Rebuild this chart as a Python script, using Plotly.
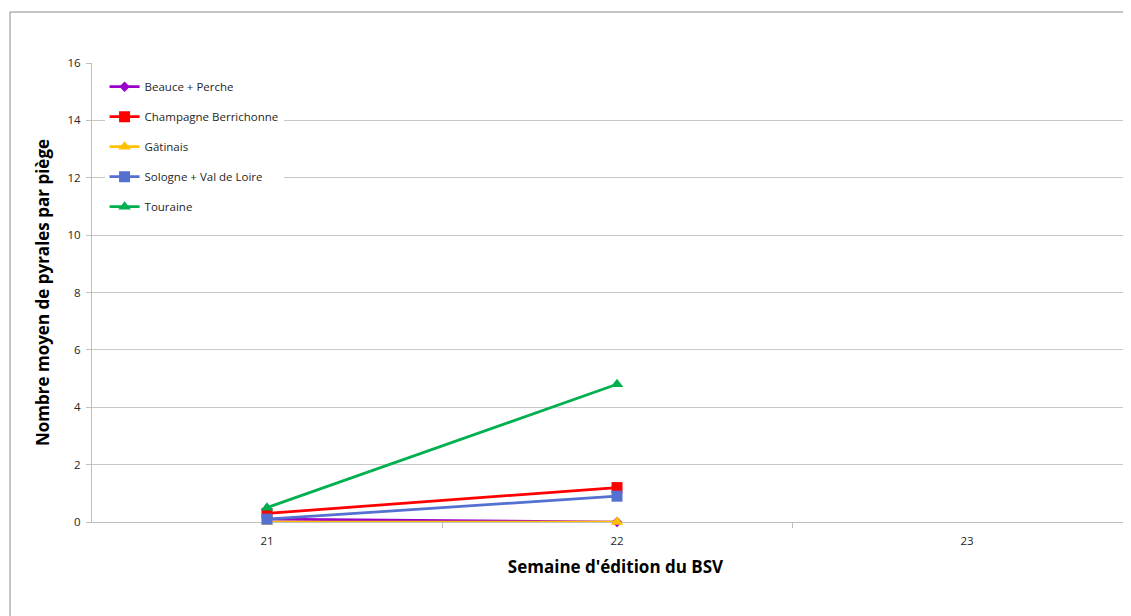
import plotly.graph_objects as go

weeks = ["21", "22", "23"]
x_pos = [0, 1, 2]
series_names = ["Beauce + Perche", "Champagne Berrichonne", "Gâtinais",
                "Sologne + Val de Loire", "Touraine"]
beauce = [0.1, 0.0]
champagne = [0.3, 1.2]
gatinais = [0.0, 0.0]
sologne = [0.1, 0.9]
touraine = [0.5, 4.8]

values = [beauce, champagne, gatinais, sologne, touraine]
colors = ["#9A00CC", "#FF0000", "#FFC000", "#5470D0", "#00B050"]
symbols = ["diamond", "square", "triangle-up", "square", "triangle-up"]
msizes = [8, 11, 11, 11, 11]

fig = go.Figure()
for i, (name, vals) in enumerate(zip(series_names, values)):
    fig.add_trace(go.Scatter(
        x=x_pos[:len(vals)], y=vals, name=name, mode="lines+markers",
        line=dict(color=colors[i], width=2.75),
        marker=dict(symbol=symbols[i], size=msizes[i], color=colors[i]),
        legendgroup=f"g{i}", cliponaxis=False,
    ))

OFF = 8  # page offset of the figure in the browser
W, H = 1131, 616
L, T = 92 - OFF, 63 - OFF
B = H - (522 - OFF)
right_edge_page = OFF + W
fig.update_layout(
    width=W, height=H,
    margin=dict(l=L, r=0, t=T, b=B),
    plot_bgcolor="white", paper_bgcolor="white",
    font=dict(family="Open Sans, Liberation Sans, sans-serif", size=11, color="#262626"),
    showlegend=True,
    legend=dict(x=0.012, y=0.98, xanchor="left", yanchor="top",
                bgcolor="rgba(255,255,255,1)", font=dict(size=11.5, color="#262626"),
                traceorder="grouped", tracegroupgap=11, itemwidth=30),
    xaxis=dict(
        range=[-0.5, 2.5 - (1142 - right_edge_page) / 350], tickvals=x_pos, ticktext=weeks,
        showgrid=False, zeroline=False, showline=True, linecolor="#BFBFBF",
        layer="below traces",
        ticks="", tickfont=dict(size=11.5, color="#262626"), ticklabelstandoff=8,
        minor=dict(tickvals=[0.5, 1.5], ticks="outside", ticklen=5, tickcolor="#BFBFBF"),
        title=dict(text="Semaine d'édition du BSV",
                   font=dict(size=17, color="#000000", family="Open Sans, Liberation Sans, sans-serif", weight="bold"),
                   standoff=14),
    ),
    yaxis=dict(
        range=[0, 16], dtick=2, showgrid=True, gridcolor="#C8C8C8", gridwidth=1,
        zeroline=False, showline=True, linecolor="#BFBFBF",
        layer="below traces",
        ticks="outside", ticklen=5, tickcolor="#BFBFBF",
        tickfont=dict(size=11.5, color="#262626"), ticklabelstandoff=3,
        title=dict(text="Nombre moyen de pyrales par piège",
                   font=dict(size=17, color="#000000", family="Open Sans, Liberation Sans, sans-serif", weight="bold"),
                   standoff=13),
    ),
)

pw = W - L
ph = H - T - B
fig.add_shape(type="rect", xref="paper", yref="paper",
              x0=(10 - OFF - L) / pw, x1=1.05, y0=-0.5, y1=1 + (T - (12 - OFF)) / ph,
              line=dict(color="#8C8C8C", width=1), layer="below")

fig.write_html("out.html")
